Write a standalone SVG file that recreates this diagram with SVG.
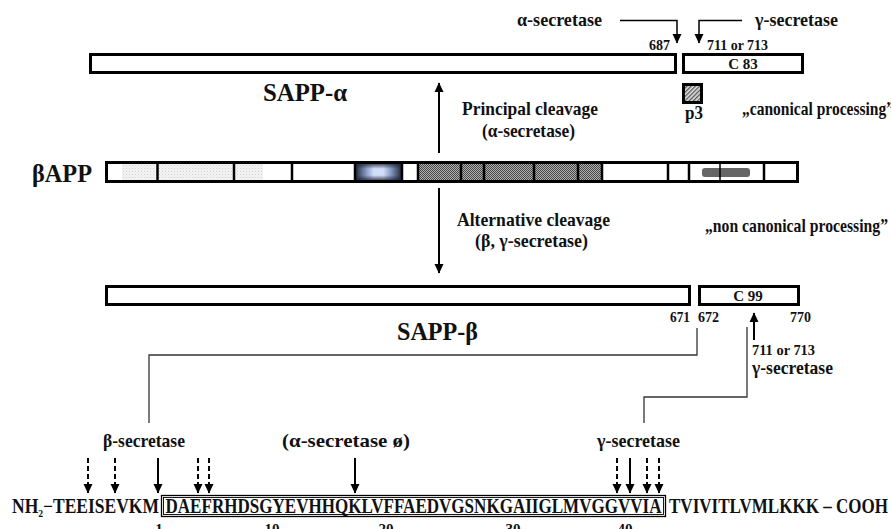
<svg xmlns="http://www.w3.org/2000/svg" width="891" height="529" viewBox="0 0 891 529">
<style>
text{font-family:"Liberation Serif","Times New Roman",serif;font-weight:bold;fill:#111;}
.lbl{font-size:19.5px;}
.num{font-size:15px;}
.big{font-size:26px;}
.seq{font-size:20px;}
.bar{fill:#fff;stroke:#000;stroke-width:3;}
.div{stroke:#000;stroke-width:2.5;}
.ln{fill:none;stroke:#000;stroke-width:1.5;}
.conn{fill:none;stroke:#333;stroke-width:1.3;}
.ar{fill:none;stroke:#000;stroke-width:2;}
.dash{fill:none;stroke:#000;stroke-width:2;stroke-dasharray:5 3;}
</style>
<defs>
<marker id="ah" markerUnits="userSpaceOnUse" markerWidth="10" markerHeight="10" refX="9" refY="5" orient="auto" viewBox="0 0 10 10">
<path d="M0,0.5 L9.5,5 L0,9.5 z" fill="#000"/>
</marker>
<pattern id="lightdot" width="3" height="3" patternUnits="userSpaceOnUse">
<rect width="3" height="3" fill="#f5f5f5"/>
<rect width="1" height="1" fill="#cfcfcf"/>
<rect x="1.5" y="1.5" width="1" height="1" fill="#dadada"/>
</pattern>
<pattern id="darkdot" width="2" height="2" patternUnits="userSpaceOnUse">
<rect width="2" height="2" fill="#b0b0b0"/>
<rect width="1" height="1" fill="#484848"/>
<rect x="1" y="1" width="1" height="1" fill="#484848"/>
</pattern>
<pattern id="hatch" width="3" height="3" patternUnits="userSpaceOnUse" patternTransform="rotate(45)">
<rect width="3" height="3" fill="#e0e0e0"/>
<rect width="1.3" height="3" fill="#555"/>
</pattern>
<linearGradient id="tmh" x1="0" y1="0" x2="1" y2="0">
<stop offset="0" stop-color="#1c2436"/>
<stop offset="0.25" stop-color="#8e9fc8"/>
<stop offset="0.4" stop-color="#d2def7"/>
<stop offset="0.6" stop-color="#d2def7"/>
<stop offset="0.75" stop-color="#8e9fc8"/>
<stop offset="1" stop-color="#1c2436"/>
</linearGradient>
<linearGradient id="tmv" x1="0" y1="0" x2="0" y2="1">
<stop offset="0" stop-color="#1c2436" stop-opacity="0.75"/>
<stop offset="0.3" stop-color="#1c2436" stop-opacity="0"/>
<stop offset="0.7" stop-color="#1c2436" stop-opacity="0"/>
<stop offset="1" stop-color="#1c2436" stop-opacity="0.75"/>
</linearGradient>
</defs>

<g id="top-labels">
<text class="lbl" x="517" y="26" textLength="85" lengthAdjust="spacingAndGlyphs">α-secretase</text>
<text class="lbl" x="755" y="26" textLength="83" lengthAdjust="spacingAndGlyphs">γ-secretase</text>
<text class="num" x="649" y="50" textLength="21" lengthAdjust="spacingAndGlyphs">687</text>
<text class="num" x="707" y="50" textLength="61" lengthAdjust="spacingAndGlyphs">711 or 713</text>
</g>

<g id="sapp-alpha">
<rect class="bar" x="90.5" y="54.5" width="585" height="18"/>
<text class="big" x="263" y="101" textLength="84" lengthAdjust="spacingAndGlyphs">SAPP-α</text>
</g>

<g id="c83">
<rect class="bar" x="683.5" y="54.5" width="119" height="18"/>
<text class="num" x="743" y="68.5" text-anchor="middle" font-size="14">C 83</text>
</g>

<g id="p3">
<rect x="683.5" y="84.5" width="18" height="18" fill="url(#hatch)" stroke="#000" stroke-width="3"/>
<text class="lbl" x="685" y="119" textLength="18" lengthAdjust="spacingAndGlyphs">p3</text>
</g>

<g id="principal">
<text class="lbl" x="462" y="115" textLength="136" lengthAdjust="spacingAndGlyphs">Principal cleavage</text>
<text class="lbl" x="482" y="137" textLength="93" lengthAdjust="spacingAndGlyphs">(α-secretase)</text>
<text class="lbl" x="742" y="115" font-size="17" textLength="152" lengthAdjust="spacingAndGlyphs">„canonical processing”</text>
</g>

<g id="bapp">
<text class="big" x="32" y="182" textLength="60" lengthAdjust="spacingAndGlyphs">βAPP</text>
<rect class="bar" x="106.5" y="162.5" width="691" height="19"/>
<rect x="122" y="164" width="35" height="16" fill="url(#lightdot)"/>
<rect x="158" y="164" width="76" height="16" fill="url(#lightdot)"/>
<rect x="235" y="164" width="28" height="16" fill="url(#lightdot)"/>
<rect x="355" y="164" width="47" height="16" fill="url(#tmh)"/>
<rect x="355" y="164" width="47" height="16" fill="url(#tmv)"/>
<rect x="418" y="164" width="43" height="16" fill="url(#darkdot)"/>
<rect x="461" y="164" width="23" height="16" fill="url(#darkdot)"/>
<rect x="484" y="164" width="50" height="16" fill="url(#darkdot)"/>
<rect x="534" y="164" width="44" height="16" fill="url(#darkdot)"/>
<rect x="578" y="164" width="24" height="16" fill="url(#darkdot)"/>
<rect x="702" y="168" width="48" height="9" rx="3" fill="#666"/>
<g class="div">
<line x1="157.5" y1="163" x2="157.5" y2="181"/>
<line x1="234" y1="163" x2="234" y2="181"/>
<line x1="292" y1="163" x2="292" y2="181"/>
<line x1="355" y1="163" x2="355" y2="181"/>
<line x1="402" y1="163" x2="402" y2="181"/>
<line x1="418" y1="163" x2="418" y2="181"/>
<line x1="461" y1="163" x2="461" y2="181"/>
<line x1="484" y1="163" x2="484" y2="181"/>
<line x1="534" y1="163" x2="534" y2="181"/>
<line x1="578" y1="163" x2="578" y2="181"/>
<line x1="602" y1="163" x2="602" y2="181"/>
<line x1="668" y1="163" x2="668" y2="181"/>
<line x1="689" y1="163" x2="689" y2="181"/>
<line x1="720" y1="163" x2="720" y2="181" stroke-width="1.5"/>
<line x1="764" y1="163" x2="764" y2="181"/>
</g>
</g>

<g id="alternative">
<text class="lbl" x="457" y="226" textLength="153" lengthAdjust="spacingAndGlyphs">Alternative cleavage</text>
<text class="lbl" x="475" y="247" textLength="113" lengthAdjust="spacingAndGlyphs">(β, γ-secretase)</text>
<text class="lbl" x="705" y="232" font-size="17" textLength="183" lengthAdjust="spacingAndGlyphs">„non canonical processing”</text>
</g>

<g id="sapp-beta">
<rect class="bar" x="106.5" y="286.5" width="583" height="18"/>
<text class="big" x="397" y="340" textLength="81" lengthAdjust="spacingAndGlyphs">SAPP-β</text>
<text class="num" x="670" y="322" textLength="20" lengthAdjust="spacingAndGlyphs">671</text>
</g>

<g id="c99">
<rect class="bar" x="699.5" y="286.5" width="99" height="18"/>
<text class="num" x="748" y="300.5" text-anchor="middle" font-size="14">C 99</text>
<text class="num" x="698" y="322" textLength="21" lengthAdjust="spacingAndGlyphs">672</text>
<text class="num" x="790" y="322" textLength="21" lengthAdjust="spacingAndGlyphs">770</text>
<text class="num" x="752" y="355" textLength="63" lengthAdjust="spacingAndGlyphs">711 or 713</text>
<text class="lbl" x="752" y="374" textLength="81" lengthAdjust="spacingAndGlyphs">γ-secretase</text>
</g>

<g id="sequence">
<text class="lbl" x="103" y="447" textLength="82" lengthAdjust="spacingAndGlyphs">β-secretase</text>
<text class="lbl" x="282" y="447" textLength="128" lengthAdjust="spacingAndGlyphs">(α-secretase ø)</text>
<text class="lbl" x="597" y="447" textLength="83" lengthAdjust="spacingAndGlyphs">γ-secretase</text>
<text class="seq" x="12" y="513" textLength="147" lengthAdjust="spacingAndGlyphs">NH<tspan font-size="11" dy="4">2</tspan><tspan dy="-4">−TEEISEVKM</tspan></text>
<rect x="161.5" y="495.5" width="504" height="21" fill="none" stroke="#000" stroke-width="1.3"/>
<rect x="163.5" y="497.5" width="500" height="17" fill="none" stroke="#000" stroke-width="0.9"/>
<text class="seq" x="165.5" y="513" textLength="496" lengthAdjust="spacingAndGlyphs">DAEFRHDSGYEVHHQKLVFFAEDVGSNKGAIIGLMVGGVVIA</text>
<text class="seq" x="669" y="513" textLength="219" lengthAdjust="spacingAndGlyphs">TVIVITLVMLKKK – COOH</text>
<text class="num" x="159" y="534" text-anchor="middle">1</text>
<text class="num" x="272" y="534" text-anchor="middle">10</text>
<text class="num" x="386" y="534" text-anchor="middle">20</text>
<text class="num" x="513" y="534" text-anchor="middle">30</text>
<text class="num" x="625" y="534" text-anchor="middle">40</text>
</g>

<g id="connectors">
<path class="ln" d="M620,20.5 H677 V43" marker-end="url(#ah)"/>
<path class="ln" d="M742,20.5 H699 V43" marker-end="url(#ah)"/>
<path class="ar" d="M439,153 V83" stroke-width="2.5" marker-end="url(#ah)"/>
<path class="ar" d="M439,188 V273" stroke-width="2.5" marker-end="url(#ah)"/>
<path class="ar" d="M754,340 V313" marker-end="url(#ah)"/>
<polyline class="conn" points="697,328 697,355 149,355 149,423"/>
<polyline class="conn" points="747,327 747,397 644,397 644,423"/>
<path class="dash" d="M88,458 V493" marker-end="url(#ah)"/>
<path class="dash" d="M115,458 V493" marker-end="url(#ah)"/>
<path class="ar" d="M158,458 V493" marker-end="url(#ah)"/>
<path class="dash" d="M198,458 V493" marker-end="url(#ah)"/>
<path class="dash" d="M209,458 V493" marker-end="url(#ah)"/>
<path class="ar" d="M355,458 V493" marker-end="url(#ah)"/>
<path class="dash" d="M617,458 V493" marker-end="url(#ah)"/>
<path class="ar" d="M630,458 V493" marker-end="url(#ah)"/>
<path class="dash" d="M647,458 V493" marker-end="url(#ah)"/>
<path class="dash" d="M659,458 V493" marker-end="url(#ah)"/>
</g>
</svg>
